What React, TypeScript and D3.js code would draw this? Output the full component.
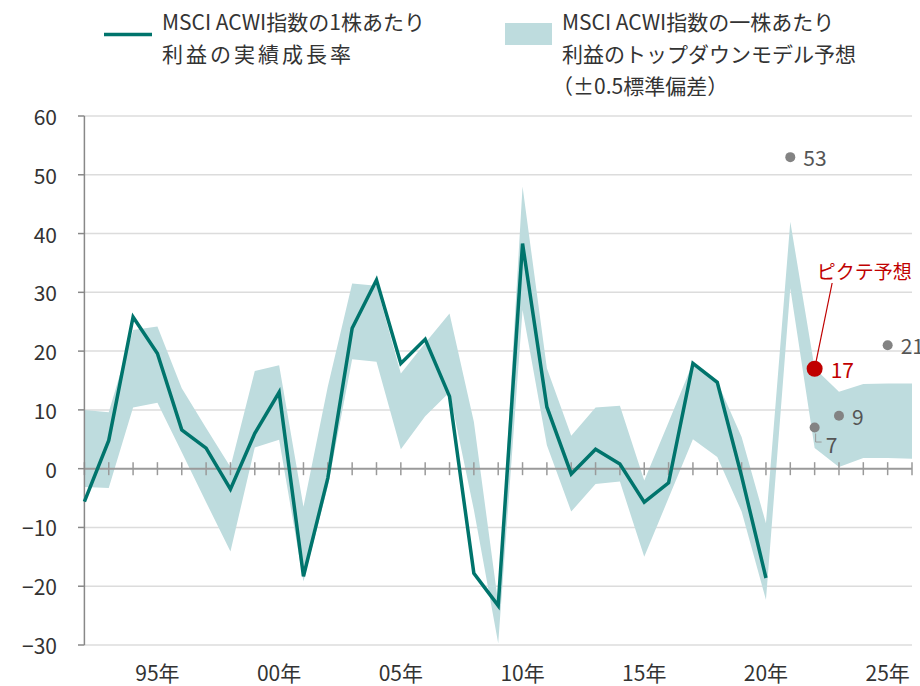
import React from "react";
import * as d3 from "d3";

const actualYears = d3.range(1992, 2021);
const actualValues = [-5.6, 4.8, 25.8, 19.6, 6.6, 3.5, -3.5, 6.0, 13.0, -18.3, -1.6, 23.9, 32.1, 17.9, 22.0, 12.3, -17.8, -23.3, 38.3, 10.5, -0.9, 3.3, 0.8, -5.7, -2.4, 17.9, 14.7, -1.3, -18.6];

const bandYears = d3.range(1992, 2027);
const bandUpper = [10.0, 9.6, 23.6, 24.2, 13.7, 6.9, 0.3, 16.6, 17.6, -6.5, 14.0, 31.5, 31.1, 16.2, 21.4, 26.4, 8.0, -22.9, 48.0, 17.1, 5.6, 10.4, 10.7, -2.0, 7.9, 18.0, 14.8, 5.4, -9.3, 42.0, 17.1, 13.1, 14.4, 14.5, 14.5];
const bandLower = [-3.1, -3.3, 10.4, 11.2, 2.8, -5.7, -14.1, 3.6, 4.9, -19.2, -3.0, 18.6, 18.2, 3.3, 8.9, 13.0, -7.0, -29.7, 27.0, 4.0, -7.3, -2.6, -2.2, -15.0, -5.0, 5.0, 2.0, -7.3, -22.3, 30.7, 3.5, 0.3, 1.8, 1.8, 1.7];

const otherYears = [2021, 2022, 2023, 2025];
const otherValues = [53, 7, 9, 21];
const picteYear = 2022;
const picteValue = 17;

const yTicks = [60, 50, 40, 30, 20, 10, 0, -10, -20, -30];
const xLabelYears = [1995, 2000, 2005, 2010, 2015, 2020, 2025];
const xLabels = ["95年", "00年", "05年", "10年", "15年", "20年", "25年"];

const legend1 = ["MSCI ACWI指数の1株あたり", "利益の実績成長率"];
const legend2 = ["MSCI ACWI指数の一株あたり", "利益のトップダウンモデル予想", "（±0.5標準偏差）"];
const picteLabel = "ピクテ予想";

const FONT = "'Noto Sans CJK JP', 'Noto Sans', sans-serif";
const LINE = "#00746C";
const BAND = "#BEDCDE";
const RED = "#C00000";

export default function App() {
  const x = d3.scaleLinear().domain([1992, 2026]).range([84.4, 912]);
  const y = d3.scaleLinear().domain([-30, 60]).range([645, 116]);

  const area = d3
    .area<number>()
    .x((_, i) => x(bandYears[i]))
    .y0((_, i) => y(bandLower[i]))
    .y1((_, i) => y(bandUpper[i]));
  const line = d3
    .line<number>()
    .x((_, i) => x(actualYears[i]))
    .y((d) => y(d));

  const allYears = d3.range(1992, 2027);
  const px = x(picteYear);
  const py = y(picteValue);
  const p7x = x(2022);
  const p7y = y(7);

  return (
    <svg width={920} height={686} style={{ position: "absolute", left: 0, top: 0, fontFamily: FONT }}>
      <rect width={920} height={686} fill="#fff" />
      {/* legend */}
      <line x1={104} x2={152} y1={34.5} y2={34.5} stroke={LINE} strokeWidth={3.5} />
      {legend1.map((t, i) => (
        <text key={i} x={162} y={21 + i * 32} dominantBaseline="central" fontSize={21} fill="#333" letterSpacing={i === 1 ? 3 : 0}>
          {t}
        </text>
      ))}
      <rect x={505} y={23} width={47} height={22} fill={BAND} />
      {legend2.map((t, i) => (
        <text key={i} x={562} y={21 + i * 32} dominantBaseline="central" fontSize={21} fill="#333" dx={i === 2 ? -10 : 0}>
          {t}
        </text>
      ))}

      {/* gridlines */}
      {yTicks.filter((v) => v !== 0).map((v) => (
        <line key={v} x1={84.4} x2={912} y1={y(v)} y2={y(v)} stroke="#dcdcdc" strokeWidth={1.5} />
      ))}
      {/* band */}
      <path d={area(bandUpper) || ""} fill={BAND} />
      {/* zero line */}
      <line x1={84.4} x2={912} y1={y(0)} y2={y(0)} stroke="#9a9a9a" strokeWidth={2} />
      {allYears.map((yr) => (
        <line key={yr} x1={x(yr)} x2={x(yr)} y1={y(0) - 6.5} y2={y(0) + 6.5} stroke="#9a9a9a" strokeWidth={1.5} />
      ))}
      {/* y axis */}
      <line x1={84.4} x2={84.4} y1={y(60)} y2={y(-30)} stroke="#888" strokeWidth={1.5} />
      {yTicks.map((v) => (
        <g key={v}>
          <line x1={78} x2={84.4} y1={y(v)} y2={y(v)} stroke="#888" strokeWidth={1.5} />
          <text x={57} y={y(v)} textAnchor="end" dominantBaseline="central" fontSize={21} fill="#333">
            {v < 0 ? "−" + Math.abs(v) : String(v)}
          </text>
        </g>
      ))}
      {xLabelYears.map((yr, i) => (
        <text key={yr} x={x(yr)} y={672} textAnchor="middle" dominantBaseline="central" fontSize={21} fill="#333">
          {xLabels[i]}
        </text>
      ))}

      {/* actual line */}
      <path d={line(actualValues) || ""} fill="none" stroke={LINE} strokeWidth={3.5} strokeLinejoin="miter" />

      {/* other forecasts */}
      {otherYears.map((yr, i) => (
        <circle key={yr} cx={x(yr)} cy={y(otherValues[i])} r={5} fill="#838383" />
      ))}
      <text x={x(2021) + 13} y={y(53)} dominantBaseline="central" fontSize={21} fill="#555">53</text>
      <text x={x(2023) + 13} y={y(9)} dominantBaseline="central" fontSize={21} fill="#555">9</text>
      <text x={x(2025) + 13} y={y(21)} dominantBaseline="central" fontSize={21} fill="#555">21</text>
      <path d={`M${p7x + 1},${p7y + 6} V${p7y + 14.5} H${p7x + 7}`} fill="none" stroke="#999" strokeWidth={1} />
      <text x={p7x + 11} y={p7y + 16} dominantBaseline="central" fontSize={21} fill="#555">7</text>

      {/* Picte forecast */}
      <line x1={px + 17.5} y1={283} x2={px} y2={py} stroke={RED} strokeWidth={1.2} />
      <circle cx={px} cy={py} r={8} fill={RED} />
      <text x={px + 16} y={py} dominantBaseline="central" fontSize={21} fill={RED}>{picteValue}</text>
      <text x={px + 2} y={270} dominantBaseline="central" fontSize={19} fill={RED}>{picteLabel}</text>
    </svg>
  );
}
